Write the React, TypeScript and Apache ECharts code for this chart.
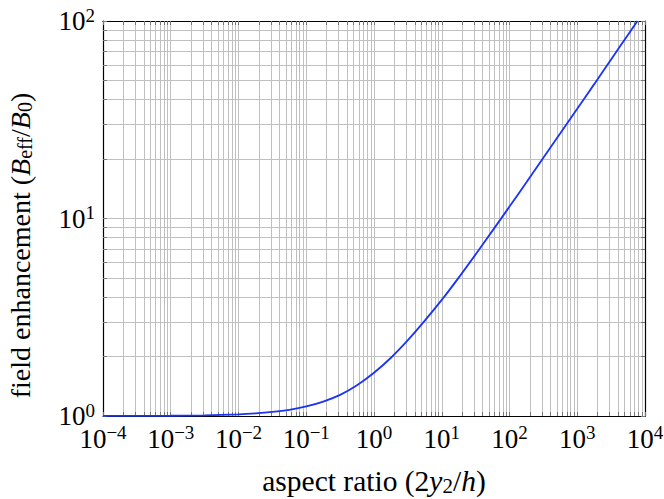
import React, { useEffect, useRef } from "react";
import * as echarts from "echarts";

// aspect ratio (2y2/h) sample positions and read field enhancement values
const aspectRatio = [
  1e-4, 3.16e-4, 1e-3, 3.16e-3, 0.01, 0.0178, 0.0316, 0.0562, 0.1, 0.178, 0.316, 0.562, 1, 1.78, 3.16, 5.62, 10, 17.8,
  31.6, 56.2, 100, 178, 316, 562, 1000, 1780, 3160, 5620, 7750,
];
const fieldEnhancement = [
  1.0005, 1.0012, 1.003, 1.008, 1.019, 1.03, 1.048, 1.075, 1.118, 1.183, 1.28, 1.432, 1.655, 1.972, 2.42, 3.04, 3.87, 5.02,
  6.58, 8.68, 11.49, 15.25, 20.3, 27.0, 35.95, 47.9, 63.9, 85.2, 100,
];

// decade exponents for tick labels
const xDecades = [-4, -3, -2, -1, 0, 1, 2, 3, 4];
const yDecades = [0, 1, 2];
const minorSteps = [1, 2, 3, 4, 5, 6, 7, 8, 9];

const SERIF = "Liberation Serif";

function decadeValues(exps: number[]): number[] {
  return exps.map((e) => Math.pow(10, e));
}
function allTickValues(exps: number[]): number[] {
  const out: number[] = [];
  for (let i = 0; i < exps.length - 1; i++) {
    for (const m of minorSteps) out.push(m * Math.pow(10, exps[i]));
  }
  out.push(Math.pow(10, exps[exps.length - 1]));
  return out;
}

const labelFormatter = (value: number) => {
  const e = Math.round(Math.log10(value));
  const s = e < 0 ? "\u2212" + -e : String(e);
  return `{b|10}{s|${s}}`;
};

const labelRich = {
  b: { fontFamily: SERIF, fontSize: 27, color: "#000" },
  s: { fontFamily: SERIF, fontSize: 19, color: "#000", padding: [0, 0, 12, 0] },
};

function nameRich(size: number) {
  const sub = Math.round(size * 0.7);
  return {
    n: { fontFamily: SERIF, fontSize: size, color: "#000" },
    i: { fontFamily: SERIF, fontSize: size, fontStyle: "italic", color: "#000" },
    sub: { fontFamily: SERIF, fontSize: sub, color: "#000", padding: [Math.round(size * 0.32), 0, 0, 0] },
  };
}

export default function App() {
  const ref = useRef<HTMLDivElement>(null);
  useEffect(() => {
    if (!ref.current) return;
    const chart = echarts.init(ref.current, null, { renderer: "svg" });
    const xTicks = allTickValues(xDecades);
    const yTicks = allTickValues(yDecades);
    const xMajor = decadeValues(xDecades);
    const yMajor = decadeValues(yDecades);
    const gridColor = "#c0c0c0";
    const tickStyle = { show: true, inside: true, length: 4, lineStyle: { color: "#777", width: 1 } };
    const axisLine = { show: true, onZero: false, lineStyle: { color: "#000", width: 1.2 } };

    chart.setOption({
      animation: false,
      backgroundColor: "#fff",
      grid: { left: 103, right: 19, top: 21, bottom: 83, outerBoundsMode: "none" },
      xAxis: [
        {
          type: "log",
          min: xMajor[0],
          max: xMajor[xMajor.length - 1],
          position: "bottom",
          axisLine,
          axisTick: { ...tickStyle, customValues: xTicks },
          splitLine: { show: true, lineStyle: { color: gridColor, width: 1 } },
          axisLabel: {
            customValues: xMajor,
            formatter: labelFormatter,
            rich: labelRich,
            fontSize: 27,
            fontFamily: SERIF,
            margin: 7,
          },
          name: "{n|aspect ratio (2}{i|y}{sub|2}{n|/}{i|h}{n|)}",
          nameLocation: "middle",
          nameGap: 50,
          nameTextStyle: { rich: nameRich(29.5), fontSize: 29.5, fontFamily: SERIF },
        },
        {
          type: "log",
          min: xMajor[0],
          max: xMajor[xMajor.length - 1],
          position: "top",
          axisLine,
          axisTick: { ...tickStyle, customValues: xTicks },
          splitLine: { show: false },
          axisLabel: { show: false },
        },
      ],
      yAxis: [
        {
          type: "log",
          min: yMajor[0],
          max: yMajor[yMajor.length - 1],
          position: "left",
          axisLine,
          axisTick: { ...tickStyle, customValues: yTicks },
          splitLine: { show: true, lineStyle: { color: gridColor, width: 1 } },
          axisLabel: {
            customValues: yMajor,
            formatter: labelFormatter,
            rich: labelRich,
            fontSize: 27,
            fontFamily: SERIF,
            margin: 8,
          },
          name: "{n|field enhancement (}{i|B}{sub|eff}{n|/}{i|B}{sub|0}{n|)}",
          nameLocation: "middle",
          nameGap: 68,
          nameTextStyle: { rich: nameRich(28), fontSize: 28, fontFamily: SERIF, padding: [0, 54, 0, 0] },
        },
        {
          type: "log",
          min: yMajor[0],
          max: yMajor[yMajor.length - 1],
          position: "right",
          axisLine,
          axisTick: { ...tickStyle, customValues: yTicks },
          splitLine: { show: false },
          axisLabel: { show: false },
        },
      ],
      series: [
        {
          type: "line",
          xAxisIndex: 0,
          yAxisIndex: 0,
          data: aspectRatio.map((x, i) => [x, fieldEnhancement[i]]),
          showSymbol: false,
          smooth: 0.3,
          lineStyle: { color: "#1a33f5", width: 1.8 },
          itemStyle: { color: "#1a33f5" },
          z: 5,
        },
      ],
    });
    return () => chart.dispose();
  }, []);
  return <div ref={ref} style={{ width: 664, height: 499, position: "absolute", left: 0, top: 0 }} />;
}
